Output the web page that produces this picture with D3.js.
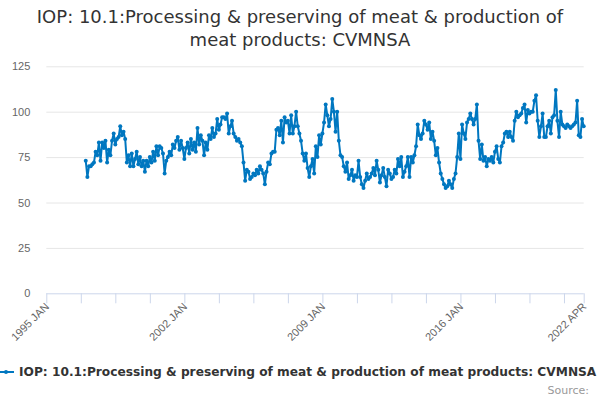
<!DOCTYPE html>
<html>
<head>
<meta charset="utf-8">
<script src="https://cdn.jsdelivr.net/npm/d3@7"></script>
<style>
  body { margin: 0; background: #fff; }
  svg { font-family: "DejaVu Sans", sans-serif; display: block; }
</style>
</head>
<body>
<script>
// chart text
var titleLines = ["IOP: 10.1:Processing & preserving of meat & production of", "meat products: CVMNSA"];
var seriesName = "IOP: 10.1:Processing & preserving of meat & production of meat products: CVMNSA";

// categories: monthly from 1995 JAN to 2022 APR
var monthNames = ["JAN", "FEB", "MAR", "APR", "MAY", "JUN", "JUL", "AUG", "SEP", "OCT", "NOV", "DEC"];
var firstYear = 1995, lastYear = 2022, lastMonth = 3;
var seriesStart = "1997 JAN";

// y axis ticks
var yTicks = [0, 25, 50, 75, 100, 125];

// values, one row per year, 1997 JAN .. 2022 APR
var cvmnsa = [
  73, 64, 70, 70, 71, 72, 78, 76, 83, 73, 83, 80,
  84, 72, 79, 76, 84, 88, 82, 85, 86, 92, 87, 89,
  85, 72, 76, 70, 77, 70, 74, 78, 71, 75, 70, 73,
  67, 73, 70, 75, 72, 78, 73, 81, 76, 81, 80, 77,
  66, 73, 75, 78, 76, 82, 80, 84, 86, 79, 84, 80,
  74, 80, 83, 77, 85, 79, 83, 78, 91, 82, 87, 84,
  76, 83, 79, 87, 85, 91, 86, 88, 96, 90, 93, 97,
  97, 96, 99, 88, 92, 95, 88, 86, 84, 85, 83, 81,
  72, 62, 68, 67, 63, 64, 66, 65, 68, 66, 70, 68,
  66, 60, 67, 72, 71, 77, 78, 78, 90, 91, 87, 95,
  83, 97, 94, 95, 88, 98, 88, 92, 100, 92, 88, 84,
  77, 73, 77, 69, 64, 70, 74, 66, 81, 75, 87, 82,
  88, 94, 104, 98, 92, 96, 107, 100, 89, 100, 84, 76,
  75, 70, 67, 72, 63, 65, 68, 62, 65, 64, 73, 64,
  60, 58, 62, 66, 63, 64, 66, 69, 65, 73, 68, 61,
  65, 69, 64, 59, 68, 66, 63, 64, 68, 66, 74, 70,
  75, 64, 67, 70, 75, 64, 75, 72, 76, 81, 93, 87,
  85, 88, 95, 93, 90, 94, 85, 89, 84, 76, 80, 72,
  66, 63, 60, 58, 59, 62, 60, 58, 63, 66, 75, 88,
  74, 93, 88, 85, 94, 96, 99, 96, 93, 96, 104, 84,
  74, 82, 73, 75, 70, 74, 73, 75, 72, 78, 81, 74,
  72, 81, 83, 88, 89, 86, 89, 86, 84, 95, 100, 97,
  98, 99, 102, 104, 94, 101, 99, 100, 100, 106, 109, 95,
  86, 92, 99, 86, 86, 92, 95, 88, 97, 98, 112, 95,
  86, 100, 93, 92, 91, 93, 92, 91, 92, 93, 94, 106,
  87, 86, 96, 92
];

// build category list
var categories = [];
for (var yr = firstYear; yr <= lastYear; yr++) {
  monthNames.forEach(function(m, i) {
    if (yr < lastYear || i <= lastMonth) categories.push(yr + " " + m);
  });
}
var offset = categories.indexOf(seriesStart);
var data = cvmnsa.map(function(v, i) { return {i: i + offset, v: v}; });

var W = 600, H = 400;
var margin = {top: 66.3, right: 16.3, bottom: 106.7, left: 46.3};

const svg = d3.select("body").append("svg")
    .attr("width", W)
    .attr("height", H);

// title
svg.append("text")
    .attr("x", W / 2)
    .attr("text-anchor", "middle")
    .attr("fill", "#333333")
    .style("font-size", "18px")
  .selectAll("tspan")
  .data(titleLines)
  .enter().append("tspan")
    .attr("x", W / 2)
    .attr("y", function(d, i) { return 23 + i * 23; })
    .text(function(d) { return d; });

var x = d3.scaleLinear()
  .domain([0, categories.length - 1])
  .range([margin.left, W - margin.right]);

var y = d3.scaleLinear()
  .domain([0, 125])
  .range([H - margin.bottom, margin.top]);

// grid + y labels
var yAxis = svg.append("g")
    .attr("transform", "translate(" + margin.left + ",0)")
    .call(d3.axisLeft(y).tickValues(yTicks).tickSize(-(W - margin.left - margin.right)).tickPadding(16));
yAxis.select(".domain").remove();
yAxis.selectAll(".tick line").attr("stroke", "#e6e6e6");
yAxis.selectAll(".tick text")
    .attr("fill", "#666666")
    .style("font-size", "11px");
yAxis.selectAll(".tick").filter(function(d) { return d === 0; }).select("line").remove();

// x axis
var tickIdx = d3.range(0, categories.length - 1, 21).concat([categories.length - 1]);
var labelIdx = [0, 84, 168, 252, categories.length - 1];
var xAxis = svg.append("g")
    .attr("transform", "translate(0," + (H - margin.bottom) + ")")
    .call(d3.axisBottom(x)
      .tickValues(tickIdx)
      .tickSize(10)
      .tickFormat(function(d) { return labelIdx.indexOf(d) >= 0 ? categories[d] : ""; }));
xAxis.select(".domain").attr("stroke", "#ccd6eb").attr("d", "M" + margin.left + ",0.5H" + (W - margin.right));
xAxis.selectAll(".tick line").attr("stroke", "#ccd6eb");
xAxis.selectAll(".tick text")
    .attr("fill", "#666666")
    .style("font-size", "11px")
    .attr("text-anchor", "end")
    .attr("dy", null)
    .attr("transform", "translate(3,14) rotate(-45)")
    .attr("y", 0);

// series
var line = d3.line()
  .x(function(d) { return x(d.i); })
  .y(function(d) { return y(d.v); });

var color = "#0077c0";
svg.append("path")
    .datum(data)
    .attr("fill", "none")
    .attr("stroke", color)
    .attr("stroke-width", 2)
    .attr("stroke-linejoin", "round")
    .attr("d", line);

svg.selectAll("circle.pt")
  .data(data)
  .enter()
  .append("circle")
    .attr("class", "pt")
    .attr("cx", function(d) { return x(d.i); })
    .attr("cy", function(d) { return y(d.v); })
    .attr("r", 2)
    .attr("fill", color);

// legend
var lg = svg.append("g").attr("transform", "translate(0,376)");
lg.append("line")
    .attr("x1", -2).attr("x2", 14).attr("y1", -4).attr("y2", -4)
    .attr("stroke", color).attr("stroke-width", 2);
lg.append("circle").attr("cx", 6).attr("cy", -4).attr("r", 2).attr("fill", color);
lg.append("text")
    .attr("x", 19)
    .attr("fill", "#333333")
    .style("font-size", "12.2px")
    .style("font-weight", "bold")
    .text(seriesName);

// credits
svg.append("text")
    .attr("x", 589)
    .attr("y", 394)
    .attr("text-anchor", "end")
    .attr("fill", "#999999")
    .style("font-size", "11px")
    .text("Source:");
</script>
</body>
</html>
